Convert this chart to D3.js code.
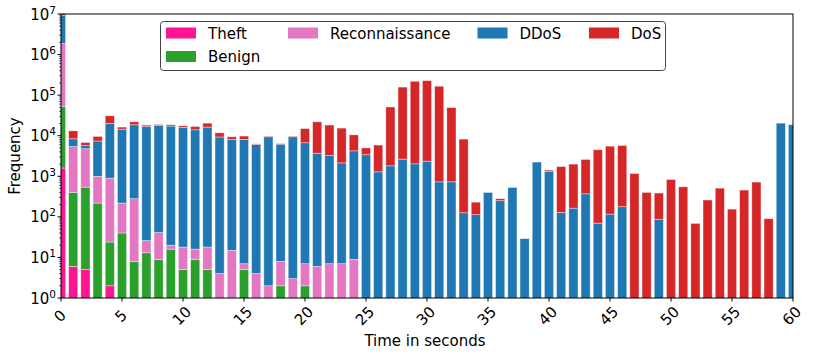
<!DOCTYPE html>
<html><head><meta charset="utf-8">
<script src="https://cdn.jsdelivr.net/npm/d3@7"></script>
<style>body{margin:0;background:#fff;} text{font-family:"DejaVu Sans",sans-serif;}</style>
</head><body><svg id="c" width="813" height="356"></svg>
<script>
const seconds = d3.range(0, 61);
const seriesNames = ["Theft", "Benign", "Reconnaissance", "DDoS", "DoS"];
const seriesColors = ["#ff1493", "#2ca02c", "#e377c2", "#1f77b4", "#d62728"];
const theft = [1600,6,5,0,2,0,0,0,0,0,0,0,0,0,0,0,0,0,0,0,0,0,0,0,0,0,0,0,0,0,0,0,0,0,0,0,0,0,0,0,0,0,0,0,0,0,0,0,0,0,0,0,0,0,0,0,0,0,0,0,0];
const benign = [50400,392,535,219,22,40,8,13,9,16,5,9,5,0,0,5,0,0,2,0,2,0,0,0,0,0,0,0,0,0,0,0,0,0,0,0,0,0,0,0,0,0,0,0,0,0,0,0,0,0,0,0,0,0,0,0,0,0,0,0,0];
const recon = [1808000,5000,4230,781,876,179,272,13,32,4,13,7,13,4,15,2,4,2,6,3,5,6,7,7,9,0,0,0,0,0,0,0,0,0,0,0,0,0,0,0,0,0,0,0,0,0,0,0,0,0,0,0,0,0,0,0,0,0,0,0,0];
const ddos = [7240000,3000,930,6400,19100,14280,18320,16870,17760,17280,15880,13984,16280,9300,8085,8093,6096,9398,6192,9397,6693,3694,3233,2133,4231,3400,1290,1810,2650,2030,2360,730,730,126,113,400,250,530,29,2240,1310,128,164,370,70,117,178,0,0,86,0,0,0,0,0,0,0,0,0,20400,18600];
const dos = [1900000,4800,1100,2200,11000,1800,3400,1400,1100,1300,1600,2900,4100,2500,1300,1700,200,400,200,400,8300,18300,15060,13260,6260,1600,4590,49190,155350,218000,225600,165300,48800,8120,117,0,30,0,0,0,110,1610,1830,2230,4430,5410,5550,1170,400,300,830,550,69,260,510,155,457,720,90,0,0];
const xTicks = [0,5,10,15,20,25,30,35,40,45,50,55,60];
const yTicks = [0,1,2,3,4,5,6,7];

const series = [theft, benign, recon, ddos, dos];
const svg = d3.select("#c");
const L = 61, R = 793, T = 14, B = 298;
const x = d3.scaleLinear().domain([0, 60]).range([L, R]);
const y = d3.scaleLog().domain([1, 1e7]).range([B, T]);
const bw = 0.75;

svg.append("defs").append("clipPath").attr("id", "clip")
  .append("rect").attr("x", L).attr("y", T).attr("width", R - L).attr("height", B - T);

const g = svg.append("g").attr("clip-path", "url(#clip)");
seconds.forEach((s, i) => {
  let cum = 0;
  series.forEach((arr, k) => {
    const v = arr[i];
    const bottom = cum;
    cum += v;
    if (v <= 0) return;
    const y0 = bottom > 0 ? y(bottom) : B + 5;
    const y1 = y(cum);
    g.append("rect")
      .attr("x", x(s - bw / 2)).attr("width", x(bw) - x(0))
      .attr("y", y1).attr("height", Math.max(0, y0 - y1))
      .attr("fill", seriesColors[k])
      .attr("stroke", "#fff").attr("stroke-opacity", 0.55).attr("stroke-width", 0.7);
  });
});

// frame
svg.append("rect").attr("x", L).attr("y", T).attr("width", R - L).attr("height", B - T)
  .attr("fill", "none").attr("stroke", "#000").attr("stroke-width", 1);

// x ticks
const xa = svg.append("g");
xTicks.forEach(t => {
  xa.append("line").attr("x1", x(t)).attr("x2", x(t)).attr("y1", B).attr("y2", B + 3.5).attr("stroke", "#000");
  xa.append("text").attr("transform", `translate(${x(t) - 1},${B + 18}) rotate(-45)`)
    .attr("text-anchor", "middle").attr("dominant-baseline", "central")
    .attr("font-size", 15).text(t);
});

// y ticks
const ya = svg.append("g");
yTicks.forEach(p => {
  const yy = y(Math.pow(10, p));
  ya.append("line").attr("x1", L - 3.5).attr("x2", L).attr("y1", yy).attr("y2", yy).attr("stroke", "#000");
  const tx = ya.append("text").attr("x", L - 5).attr("y", yy + 5.5).attr("text-anchor", "end").attr("font-size", 15);
  tx.append("tspan").text("10");
  tx.append("tspan").attr("dy", -6).attr("font-size", 10.5).text(p);
  if (p < 7) {
    for (let m = 2; m <= 9; m++) {
      const ym = y(m * Math.pow(10, p));
      ya.append("line").attr("x1", L - 2).attr("x2", L).attr("y1", ym).attr("y2", ym).attr("stroke", "#000").attr("stroke-width", 0.6);
    }
  }
});

svg.append("text").attr("x", (L + R) / 2 - 2).attr("y", 346).attr("text-anchor", "middle").attr("font-size", 15).text("Time in seconds");
svg.append("text").attr("transform", `translate(20,${(T + B) / 2}) rotate(-90)`).attr("text-anchor", "middle").attr("font-size", 15).text("Frequency");

// legend
const lg = svg.append("g");
lg.append("rect").attr("x", 160.5).attr("y", 21.5).attr("width", 505).attr("height", 49).attr("rx", 3)
  .attr("fill", "#fff").attr("fill-opacity", 0.8).attr("stroke", "#444").attr("stroke-width", 1);
const legPos = [[166, 33], [166, 56.5], [288, 33], [477.5, 33], [589, 33]];
seriesNames.forEach((n, k) => {
  const [lx, ly] = legPos[k];
  lg.append("rect").attr("x", lx).attr("y", ly - 5.5).attr("width", 30).attr("height", 11).attr("fill", seriesColors[k]);
  lg.append("text").attr("x", lx + 42).attr("y", ly + 5.5).attr("font-size", 15).text(n);
});
</script></body></html>
